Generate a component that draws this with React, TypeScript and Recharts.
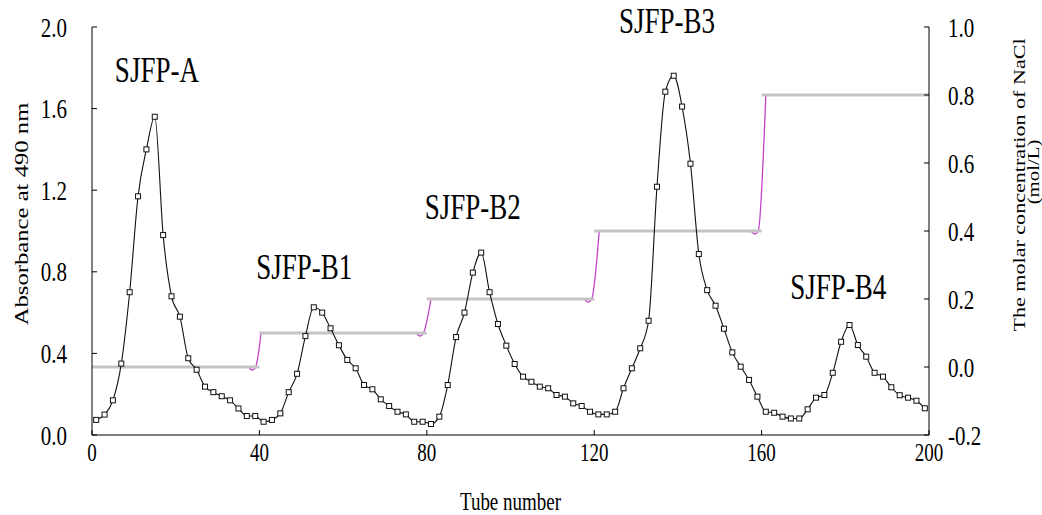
import { ComposedChart, Line, XAxis, YAxis, ReferenceDot } from "recharts";

// absorbance at 490 nm, read every second tube
const tubes = [
  1, 3, 5, 7, 9, 11, 13, 15, 17, 19, 21, 23, 25, 27, 29, 31, 33, 35, 37, 39,
  41, 43, 45, 47, 49, 51, 53, 55, 57, 59, 61, 63, 65, 67, 69, 71, 73, 75, 77, 79,
  81, 83, 85, 87, 89, 91, 93, 95, 97, 99, 101, 103, 105, 107, 109, 111, 113, 115, 117, 119,
  121, 123, 125, 127, 129, 131, 133, 135, 137, 139, 141, 143, 145, 147, 149, 151, 153, 155, 157, 159,
  161, 163, 165, 167, 169, 171, 173, 175, 177, 179, 181, 183, 185, 187, 189, 191, 193, 195, 197, 199,
];
const absorbance = [
  0.074, 0.1, 0.17, 0.35, 0.7, 1.17, 1.4, 1.56, 0.98, 0.68, 0.58, 0.376, 0.32, 0.237, 0.21, 0.19, 0.17, 0.13, 0.093, 0.093,
  0.065, 0.074, 0.106, 0.21, 0.3, 0.485, 0.626, 0.6, 0.523, 0.44, 0.368, 0.327, 0.245, 0.224, 0.175, 0.142, 0.114, 0.101, 0.065, 0.065,
  0.054, 0.09, 0.245, 0.48, 0.6, 0.796, 0.894, 0.7, 0.544, 0.438, 0.348, 0.286, 0.261, 0.237, 0.229, 0.196, 0.188, 0.155, 0.142, 0.114,
  0.101, 0.101, 0.114, 0.229, 0.327, 0.425, 0.56, 1.217, 1.683, 1.761, 1.61, 1.33, 0.887, 0.71, 0.634, 0.521, 0.405, 0.335, 0.27, 0.188,
  0.114, 0.109, 0.09, 0.081, 0.081, 0.126, 0.183, 0.196, 0.305, 0.457, 0.539, 0.441, 0.384, 0.305, 0.286, 0.234, 0.195, 0.183, 0.168, 0.131,
];

// NaCl step gradient
const stepTubes = [0, 40, 80, 120, 160, 200];
const naclLevels = [0, 0.1, 0.2, 0.4, 0.8];
const rampTubes = [
  [37.4, 38.3, 39.1, 40.4],
  [77.5, 78.4, 79.2, 81.0],
  [117.7, 118.6, 119.4, 121.2],
  [157.5, 158.4, 159.2, 161.0],
];
const rampValues = [
  [0, -0.009, 0, 0.1],
  [0.1, 0.091, 0.1, 0.2],
  [0.2, 0.191, 0.2, 0.4],
  [0.4, 0.391, 0.4, 0.8],
];

const peakNames = ["SJFP-A", "SJFP-B1", "SJFP-B2", "SJFP-B3", "SJFP-B4"];
const peakTubes = [15.5, 50.7, 91, 137.4, 178.3];
const peakHeights = [1.79, 0.82, 1.118, 2.03, 0.723];

const xTicks = [0, 40, 80, 120, 160, 200];
const absTicks = [0, 0.4, 0.8, 1.2, 1.6, 2.0];
const naclTicks = [-0.2, 0, 0.2, 0.4, 0.6, 0.8, 1.0];

const FONT = "'Liberation Serif', 'Times New Roman', serif";
const STRETCH = 1.3;

const StretchText = ({ x, y, size, anchor = "middle", rotate = false, children }: any) => (
  <text
    transform={`translate(${x},${y}) scale(1,${STRETCH})${rotate ? " rotate(-90)" : ""}`}
    textAnchor={anchor}
    dominantBaseline="central"
    fontFamily={FONT}
    fontSize={size}
    fill="#000"
  >
    {children}
  </text>
);

const LeftTick = ({ x, y, payload }: any) => (
  <g>
    <line x1={x + 25} x2={x + 30} y1={y} y2={y} stroke="#000" />
    <StretchText x={x} y={y} size={21} anchor="end">
      {Number(payload.value).toFixed(1)}
    </StretchText>
  </g>
);

const RightTick = ({ x, y, payload }: any) => (
  <g>
    <line x1={x - 19} x2={x - 24} y1={y} y2={y} stroke="#000" />
    <StretchText x={x} y={y} size={21} anchor="start">
      {Number(payload.value).toFixed(1)}
    </StretchText>
  </g>
);

const BottomTick = ({ x, y, payload }: any) => (
  <g>
    <line x1={x} x2={x} y1={y - 18} y2={y - 23} stroke="#000" />
    <StretchText x={x} y={y} size={19}>
      {payload.value}
    </StretchText>
  </g>
);

const SquareDot = (p: any) => (
  <rect
    key={`sq-${p.index}`}
    x={p.cx - 2.5}
    y={p.cy - 2.5}
    width={5}
    height={5}
    fill="#fff"
    stroke="#111"
    strokeWidth={1}
  />
);

export default function App() {
  const absData = tubes.map((t, i) => ({ tube: t, abs: absorbance[i] }));

  return (
    <div style={{ position: "absolute", left: 0, top: 0, background: "#fff" }}>
      <ComposedChart width={1042} height={515} margin={{ top: 27, right: 0, bottom: 0, left: 0 }}>
        <XAxis
          dataKey="tube"
          type="number"
          domain={[0, 200]}
          ticks={xTicks}
          interval={0}
          height={80}
          tickSize={0}
          tickMargin={18}
          tickLine={false}
          tick={<BottomTick />}
          axisLine={{ stroke: "#000", strokeWidth: 1 }}
          label={{
            content: ({ viewBox }: any) => (
              <StretchText x={viewBox.x + viewBox.width / 2} y={viewBox.y + 67} size={19}>
                Tube number
              </StretchText>
            ),
          }}
        />
        <YAxis
          yAxisId="abs"
          orientation="left"
          type="number"
          domain={[0, 2]}
          ticks={absTicks}
          interval={0}
          width={92}
          tickSize={0}
          tickMargin={25}
          tickLine={false}
          tick={<LeftTick />}
          axisLine={{ stroke: "#000", strokeWidth: 1 }}
          label={{
            content: ({ viewBox }: any) => (
              <StretchText x={viewBox.x + 22} y={viewBox.y + 187} size={19} rotate>
                Absorbance at 490 nm
              </StretchText>
            ),
          }}
        />
        <YAxis
          yAxisId="nacl"
          orientation="right"
          type="number"
          domain={[-0.2, 1.0]}
          ticks={naclTicks}
          interval={0}
          width={113}
          tickSize={0}
          tickMargin={19}
          tickLine={false}
          tick={<RightTick />}
          axisLine={{ stroke: "#000", strokeWidth: 1 }}
          label={{
            content: ({ viewBox }: any) => (
              <g>
                <StretchText x={viewBox.x + 90} y={viewBox.y + 158} size={17} rotate>
                  The molar concentration of NaCl
                </StretchText>
                <StretchText x={viewBox.x + 104} y={viewBox.y + 145} size={16} rotate>
                  (mol/L)
                </StretchText>
              </g>
            ),
          }}
        />

        {rampTubes.map((ts, i) => (
          <Line
            key={`ramp-${i}`}
            yAxisId="nacl"
            data={ts.map((t, j) => ({ tube: t, nacl: rampValues[i][j] }))}
            dataKey="nacl"
            type="monotone"
            stroke="#c040c8"
            strokeWidth={1.3}
            dot={false}
            isAnimationActive={false}
          />
        ))}
        {naclLevels.map((lvl, i) => (
          <Line
            key={`step-${i}`}
            yAxisId="nacl"
            data={[
              { tube: stepTubes[i], nacl: lvl },
              { tube: stepTubes[i + 1], nacl: lvl },
            ]}
            dataKey="nacl"
            type="linear"
            stroke="#c4c4c4"
            strokeWidth={3}
            dot={false}
            isAnimationActive={false}
          />
        ))}
        <Line
          yAxisId="abs"
          data={absData}
          dataKey="abs"
          type="monotone"
          stroke="#111"
          strokeWidth={1.1}
          dot={SquareDot}
          isAnimationActive={false}
        />
        {peakNames.map((name, i) => (
          <ReferenceDot
            key={name}
            yAxisId="abs"
            x={peakTubes[i]}
            y={peakHeights[i]}
            r={0}
            ifOverflow="visible"
            shape={(p: any) => (
              <StretchText x={p.cx} y={p.cy} size={27}>
                {name}
              </StretchText>
            )}
          />
        ))}
      </ComposedChart>
    </div>
  );
}
